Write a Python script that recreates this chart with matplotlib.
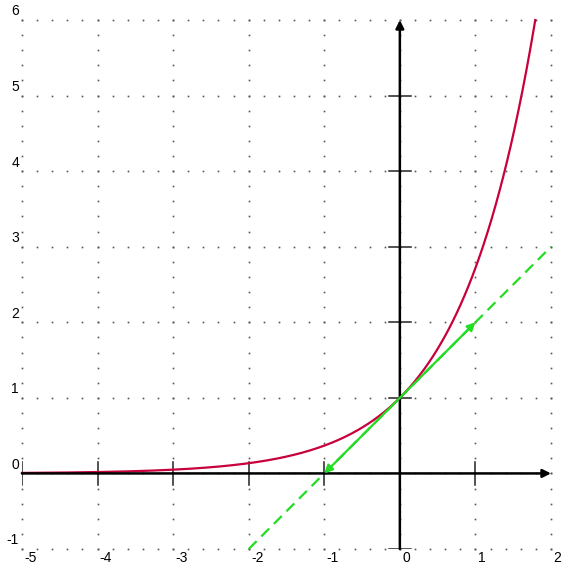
import numpy as np
import matplotlib.pyplot as plt

x_ticks = [-5, -4, -3, -2, -1, 0, 1, 2]
y_ticks = [-1, 0, 1, 2, 3, 4, 5, 6]
x_labels = ["-5", "-4", "-3", "-2", "-1", "0", "1", "2"]
y_labels = ["-1", "0", "1", "2", "3", "4", "5", "6"]

# f(x) = e^x and its tangent at x=0
curve_x = np.linspace(-5, np.log(6), 400)
curve_y = np.exp(curve_x)
tangent_x = [-2, 2]
tangent_y = [-1, 3]
arrow_start = (0, 1)
arrow_ends = [(1, 2), (-1, 0)]

fig = plt.figure(figsize=(5.63, 5.65), dpi=100)
ax = fig.add_axes([22 / 563, 16 / 565, 529 / 563, 529 / 565])
ax.set_xlim(-5, 2)
ax.set_ylim(-1, 6)
ax.axis("off")

# dotted grid
dots = np.arange(-5, 2.001, 0.2)
dots_y = np.arange(-1, 6.001, 0.2)
for xv in x_ticks:
    ax.plot(np.full_like(dots_y, xv), dots_y, ls="none", marker="s", ms=1.2,
            color="#555555", mew=0, clip_on=False)
for yv in y_ticks:
    ax.plot(dots, np.full_like(dots, yv), ls="none", marker="s", ms=1.2,
            color="#555555", mew=0, clip_on=False)

# axes with arrows
ax.annotate("", xy=(2, 0), xytext=(-5, 0),
            arrowprops=dict(arrowstyle="-|>", color="black", lw=1.8,
                            mutation_scale=12, shrinkA=0, shrinkB=0))
ax.annotate("", xy=(0, 6), xytext=(0, -1),
            arrowprops=dict(arrowstyle="-|>", color="black", lw=1.8,
                            mutation_scale=12, shrinkA=0, shrinkB=0))
for xv in x_ticks[:-1]:
    if xv != 0:
        ax.plot([xv, xv], [-0.15, 0.15], color="#222222", lw=1.1)
for yv in y_ticks[:-1]:
    if yv != 0:
        ax.plot([-0.15, 0.15], [yv, yv], color="#222222", lw=1.1)

# labels
for xv, lab in zip(x_ticks, x_labels):
    ax.text(xv + 0.03, -1.03, lab, ha="left", va="top", fontsize=10,
            family="Liberation Sans")
for yv, lab in zip(y_ticks, y_labels):
    ax.text(-5.04, yv + 0.02, lab, ha="right", va="bottom", fontsize=10,
            family="Liberation Sans")

# tangent and curve
ax.plot(tangent_x, tangent_y, color="#22dd22", lw=1.6, ls=(0, (5, 3)))
ax.plot(curve_x, curve_y, color="#c8003c", lw=1.6, clip_on=False)
for end in arrow_ends:
    ax.annotate("", xy=end, xytext=arrow_start,
                arrowprops=dict(arrowstyle="-|>", color="#22dd22", lw=1.6,
                                mutation_scale=12, shrinkA=0, shrinkB=0))

fig.savefig("out.png", dpi=100)
